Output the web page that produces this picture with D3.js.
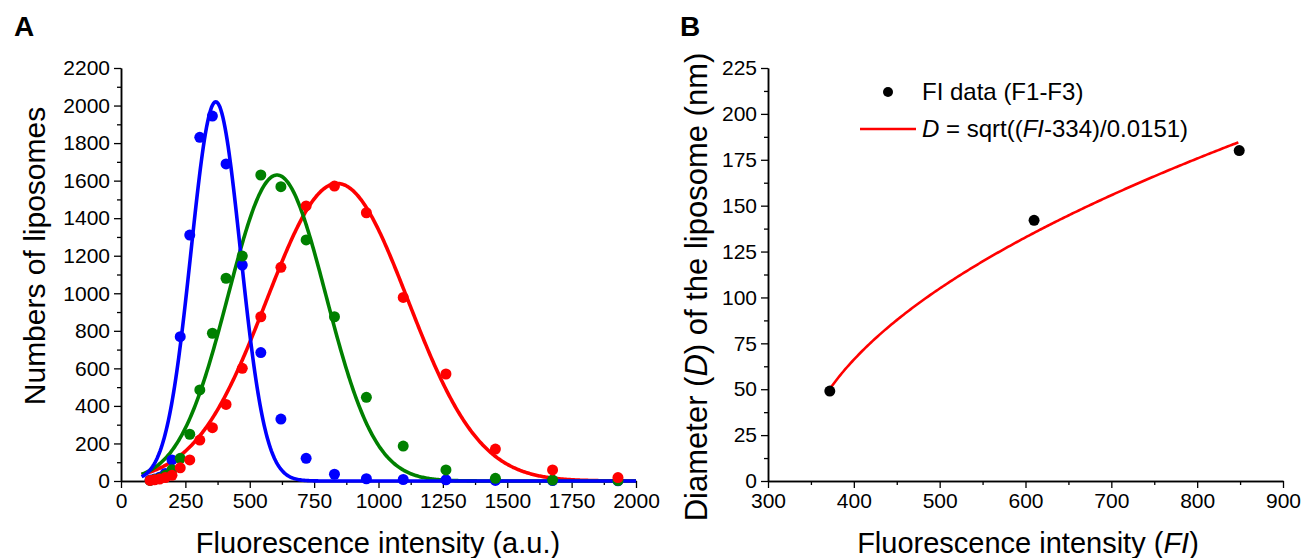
<!DOCTYPE html>
<html>
<head>
<meta charset="utf-8">
<script src="https://cdn.jsdelivr.net/npm/d3@7"></script>
<style>
  body { margin: 0; background: #fff; }
  svg { font-family: Arial, "Liberation Sans", sans-serif; }
</style>
</head>
<body>
<script>
// ---- panel A data: histogram bins and counts
var binCentres = [113, 130, 150, 172, 198, 230, 267, 306, 355, 408, 471, 543, 621, 719, 829, 953, 1096, 1262, 1454, 1676, 1930];
var blueCounts = [5, 10, 20, 40, 112, 769, 1310, 1831, 1944, 1689, 1150, 684, 330, 121, 36, 12, 8, 6, 3, 2, 1];
var greenCounts = [3, 8, 15, 30, 60, 121, 249, 485, 787, 1080, 1198, 1630, 1568, 1284, 875, 446, 186, 59, 14, 5, 2];
var redCounts = [3, 6, 10, 18, 30, 70, 112, 218, 284, 408, 600, 875, 1138, 1465, 1571, 1429, 978, 570, 170, 59, 18];

// gaussian fits (centre, sigma, amplitude) estimated from the drawn curves
var seriesNames = ["red", "green", "blue"];
var fitCentre = [840, 606, 368];
var fitSigma = [275, 190, 96];
var fitAmp = [1585, 1630, 2020];
var fitRange = [80, 2000];

// ---- panel B data
var fiValues = [372, 610, 849];
var diameters = [49, 142, 180];
var fitOffset = 334, fitSlope = 0.0151;

var colours = { red: "#ff0000", green: "#008000", blue: "#0000ff" };

var W = 1301, H = 558;
var svg = d3.select("body").append("svg").attr("width", W).attr("height", H);

function drawAxes(g, x, y, xMajor, xMinor, yMajor, yMinor) {
    var fmt = d3.format("d");
    g.append("g").attr("transform", "translate(0," + y.range()[0] + ")")
        .call(d3.axisBottom(x).tickValues(xMajor).tickFormat(fmt).tickSize(7).tickPadding(5).tickSizeOuter(0));
    g.append("g").attr("transform", "translate(0," + y.range()[0] + ")")
        .call(d3.axisBottom(x).tickValues(xMinor).tickSize(4).tickFormat("").tickSizeOuter(0));
    g.append("g").attr("transform", "translate(" + x.range()[0] + ",0)")
        .call(d3.axisLeft(y).tickValues(yMajor).tickFormat(fmt).tickSize(7).tickPadding(4).tickSizeOuter(0));
    g.append("g").attr("transform", "translate(" + x.range()[0] + ",0)")
        .call(d3.axisLeft(y).tickValues(yMinor).tickSize(4).tickFormat("").tickSizeOuter(0));
    g.selectAll(".domain").attr("stroke", "#000").attr("stroke-width", 1.5);
    g.selectAll(".tick line").attr("stroke", "#000").attr("stroke-width", 1.3);
    g.selectAll(".tick text").attr("font-size", 21).attr("fill", "#000")
        .attr("font-family", "Arial, 'Liberation Sans', sans-serif");
}

// ================= Panel A =================
var xA = d3.scaleLinear().domain([0, 2000]).range([121, 636]);
var yA = d3.scaleLinear().domain([0, 2200]).range([481, 68]);
var gA = svg.append("g");

drawAxes(gA, xA, yA,
    d3.range(0, 2001, 250), d3.range(125, 2000, 250),
    d3.range(0, 2201, 200), d3.range(100, 2200, 200));

var curveLine = d3.line().x(d => xA(d[0])).y(d => yA(d[1]));
seriesNames.forEach(function (s, i) {
    var pts = d3.range(fitRange[0], fitRange[1] + 1, 4).map(function (v) {
        var z = (v - fitCentre[i]) / fitSigma[i];
        return [v, fitAmp[i] * Math.exp(-0.5 * z * z)];
    });
    gA.append("path").datum(pts)
        .attr("d", curveLine)
        .attr("fill", "none")
        .attr("stroke", colours[s])
        .attr("stroke-width", 3.6);
});

var counts = { blue: blueCounts, green: greenCounts, red: redCounts };
["blue", "green", "red"].forEach(function (s) {
    gA.append("g").selectAll("circle")
        .data(binCentres.map((b, j) => [b, counts[s][j]]))
        .join("circle")
        .attr("cx", d => xA(d[0]))
        .attr("cy", d => yA(d[1]))
        .attr("r", 5.5)
        .attr("fill", colours[s]);
});

gA.append("text").attr("x", 14).attr("y", 36).text("A")
    .attr("font-size", 28).attr("font-weight", "bold");
gA.append("text")
    .attr("transform", "translate(45,256) rotate(-90)")
    .attr("text-anchor", "middle")
    .attr("font-size", 30)
    .text("Numbers of liposomes");
gA.append("text").attr("x", 378).attr("y", 553)
    .attr("text-anchor", "middle").attr("font-size", 29)
    .text("Fluorescence intensity (a.u.)");

// ================= Panel B =================
var xB = d3.scaleLinear().domain([300, 900]).range([768, 1283]);
var yB = d3.scaleLinear().domain([0, 225]).range([481, 68]);
var gB = svg.append("g");

drawAxes(gB, xB, yB,
    d3.range(300, 901, 100), d3.range(350, 900, 100),
    d3.range(0, 226, 25), d3.range(12.5, 225, 25));

var fitPts = d3.range(fiValues[0], fiValues[2] + 0.1, 2).map(v => [v, Math.sqrt((v - fitOffset) / fitSlope)]);
gB.append("path").datum(fitPts)
    .attr("d", d3.line().x(d => xB(d[0])).y(d => yB(d[1])))
    .attr("fill", "none").attr("stroke", "#ff0000").attr("stroke-width", 2.6);

gB.append("g").selectAll("circle")
    .data(fiValues.map((v, i) => [v, diameters[i]]))
    .join("circle")
    .attr("cx", d => xB(d[0]))
    .attr("cy", d => yB(d[1]))
    .attr("r", 5.5)
    .attr("fill", "#000");

// legend
var leg = gB.append("g").attr("font-size", 24);
leg.append("circle").attr("cx", 888).attr("cy", 92).attr("r", 5).attr("fill", "#000");
leg.append("text").attr("x", 922).attr("y", 100).text("FI data (F1-F3)");
leg.append("line").attr("x1", 860).attr("x2", 916).attr("y1", 129).attr("y2", 129)
    .attr("stroke", "#ff0000").attr("stroke-width", 2.6);
var eq = leg.append("text").attr("x", 922).attr("y", 137);
eq.append("tspan").attr("font-style", "italic").text("D");
eq.append("tspan").text(" = sqrt((");
eq.append("tspan").attr("font-style", "italic").text("FI");
eq.append("tspan").text("-334)/0.0151)");

gB.append("text").attr("x", 680).attr("y", 36).text("B")
    .attr("font-size", 28).attr("font-weight", "bold");

var yt = gB.append("text")
    .attr("transform", "translate(707,287) rotate(-90)")
    .attr("text-anchor", "middle")
    .attr("font-size", 31);
yt.append("tspan").text("Diameter (");
yt.append("tspan").attr("font-style", "italic").text("D");
yt.append("tspan").text(") of the liposome (nm)");

var xt = gB.append("text").attr("x", 1028).attr("y", 553)
    .attr("text-anchor", "middle").attr("font-size", 29);
xt.append("tspan").text("Fluorescence intensity (");
xt.append("tspan").attr("font-style", "italic").text("FI");
xt.append("tspan").text(")");
</script>
</body>
</html>
